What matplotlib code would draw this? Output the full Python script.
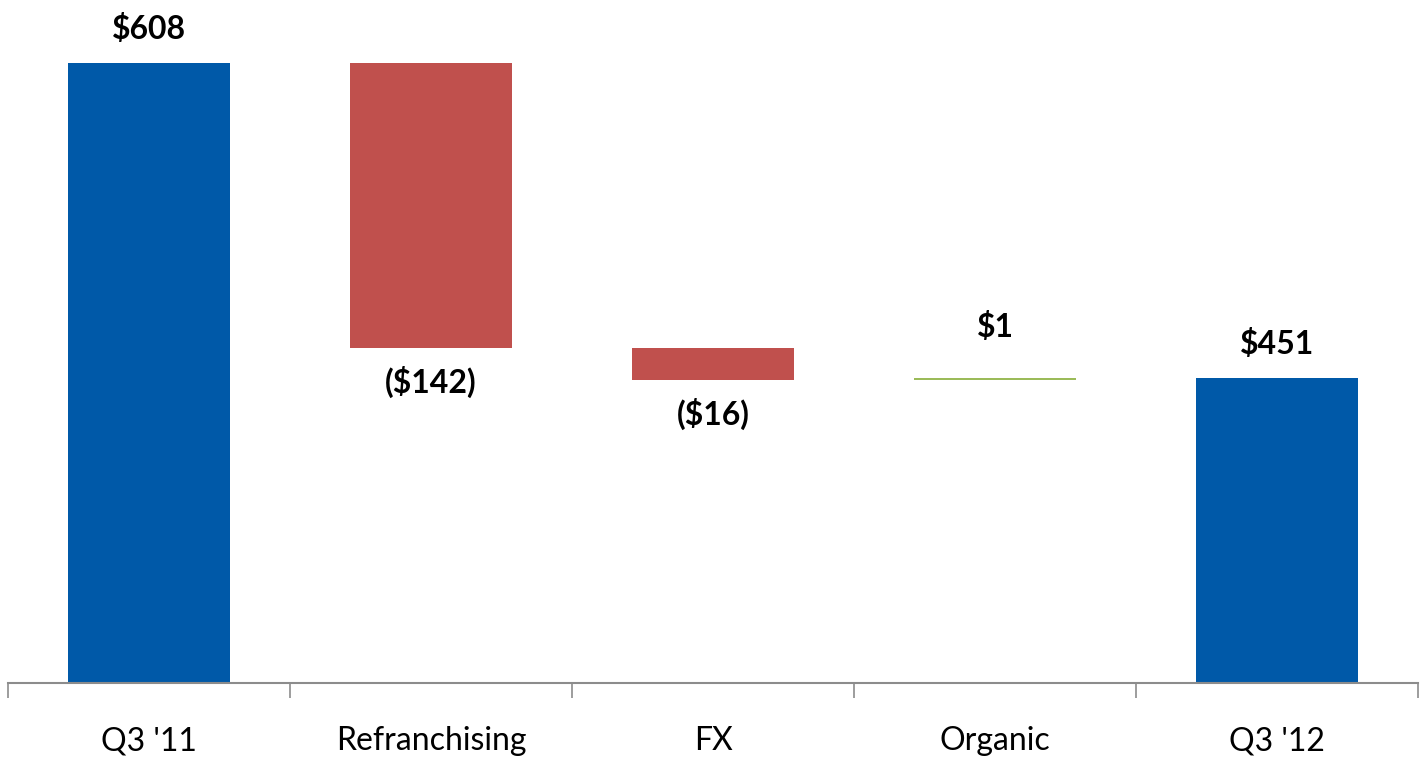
import matplotlib.pyplot as plt
import numpy as np

# Q3 operating profit bridge, $ millions
categories = ["Q3 '11", "Refranchising", "FX", "Organic", "Q3 '12"]
changes = [608, -142, -16, 1, 451]
labels = ["$608", "($142)", "($16)", "$1", "$451"]
kinds = ["total", "delta", "delta", "delta", "total"]

plt.rcParams['font.family'] = ['Lato', 'DejaVu Sans']

BLUE = '#0059a8'
RED = '#c0504d'
GREEN = '#9bbb59'

fig = plt.figure(figsize=(14.21, 7.64), dpi=100)
ax = fig.add_axes([8 / 1421, 81 / 764, 1410 / 1421, 683 / 764])

x = np.arange(len(categories))
running = 0
for i, (chg, kind) in enumerate(zip(changes, kinds)):
    if kind == "total":
        bottom, height = 0, chg
        running = chg
        color = BLUE
    else:
        start = running
        running = running + chg
        bottom, height = min(start, running), abs(chg)
        color = RED if chg < 0 else GREEN
    ax.bar(x[i], height, bottom=bottom, width=0.575, color=color, zorder=2)

    top = bottom + height
    if chg < 0:
        ax.annotate(labels[i], (x[i], bottom), xytext=(0, -13), textcoords='offset points',
                    ha='center', va='top', fontsize=23, fontweight='bold')
    else:
        off = 26 if kind == "delta" else 14
        ax.annotate(labels[i], (x[i], top), xytext=(0, off), textcoords='offset points',
                    ha='center', va='bottom', fontsize=23, fontweight='bold')

# value axis is truncated, so bars start below the visible range
ax.set_ylim(299, 639.5)
ax.set_xlim(-0.5, len(categories) - 0.5)

ax.set_yticks([])
for side in ['left', 'right', 'top']:
    ax.spines[side].set_visible(False)
ax.spines['bottom'].set_color('#8c8c8c')
ax.spines['bottom'].set_linewidth(1.5)

ax.set_xticks(x)
ax.set_xticklabels(categories, fontsize=23)
ax.tick_params(axis='x', which='major', length=0, pad=31)
ax.set_xticks(np.arange(-0.5, len(categories)), minor=True)
ax.tick_params(axis='x', which='minor', length=11, width=1.2, color='#8c8c8c')

fig.savefig('out.png', dpi=100)
